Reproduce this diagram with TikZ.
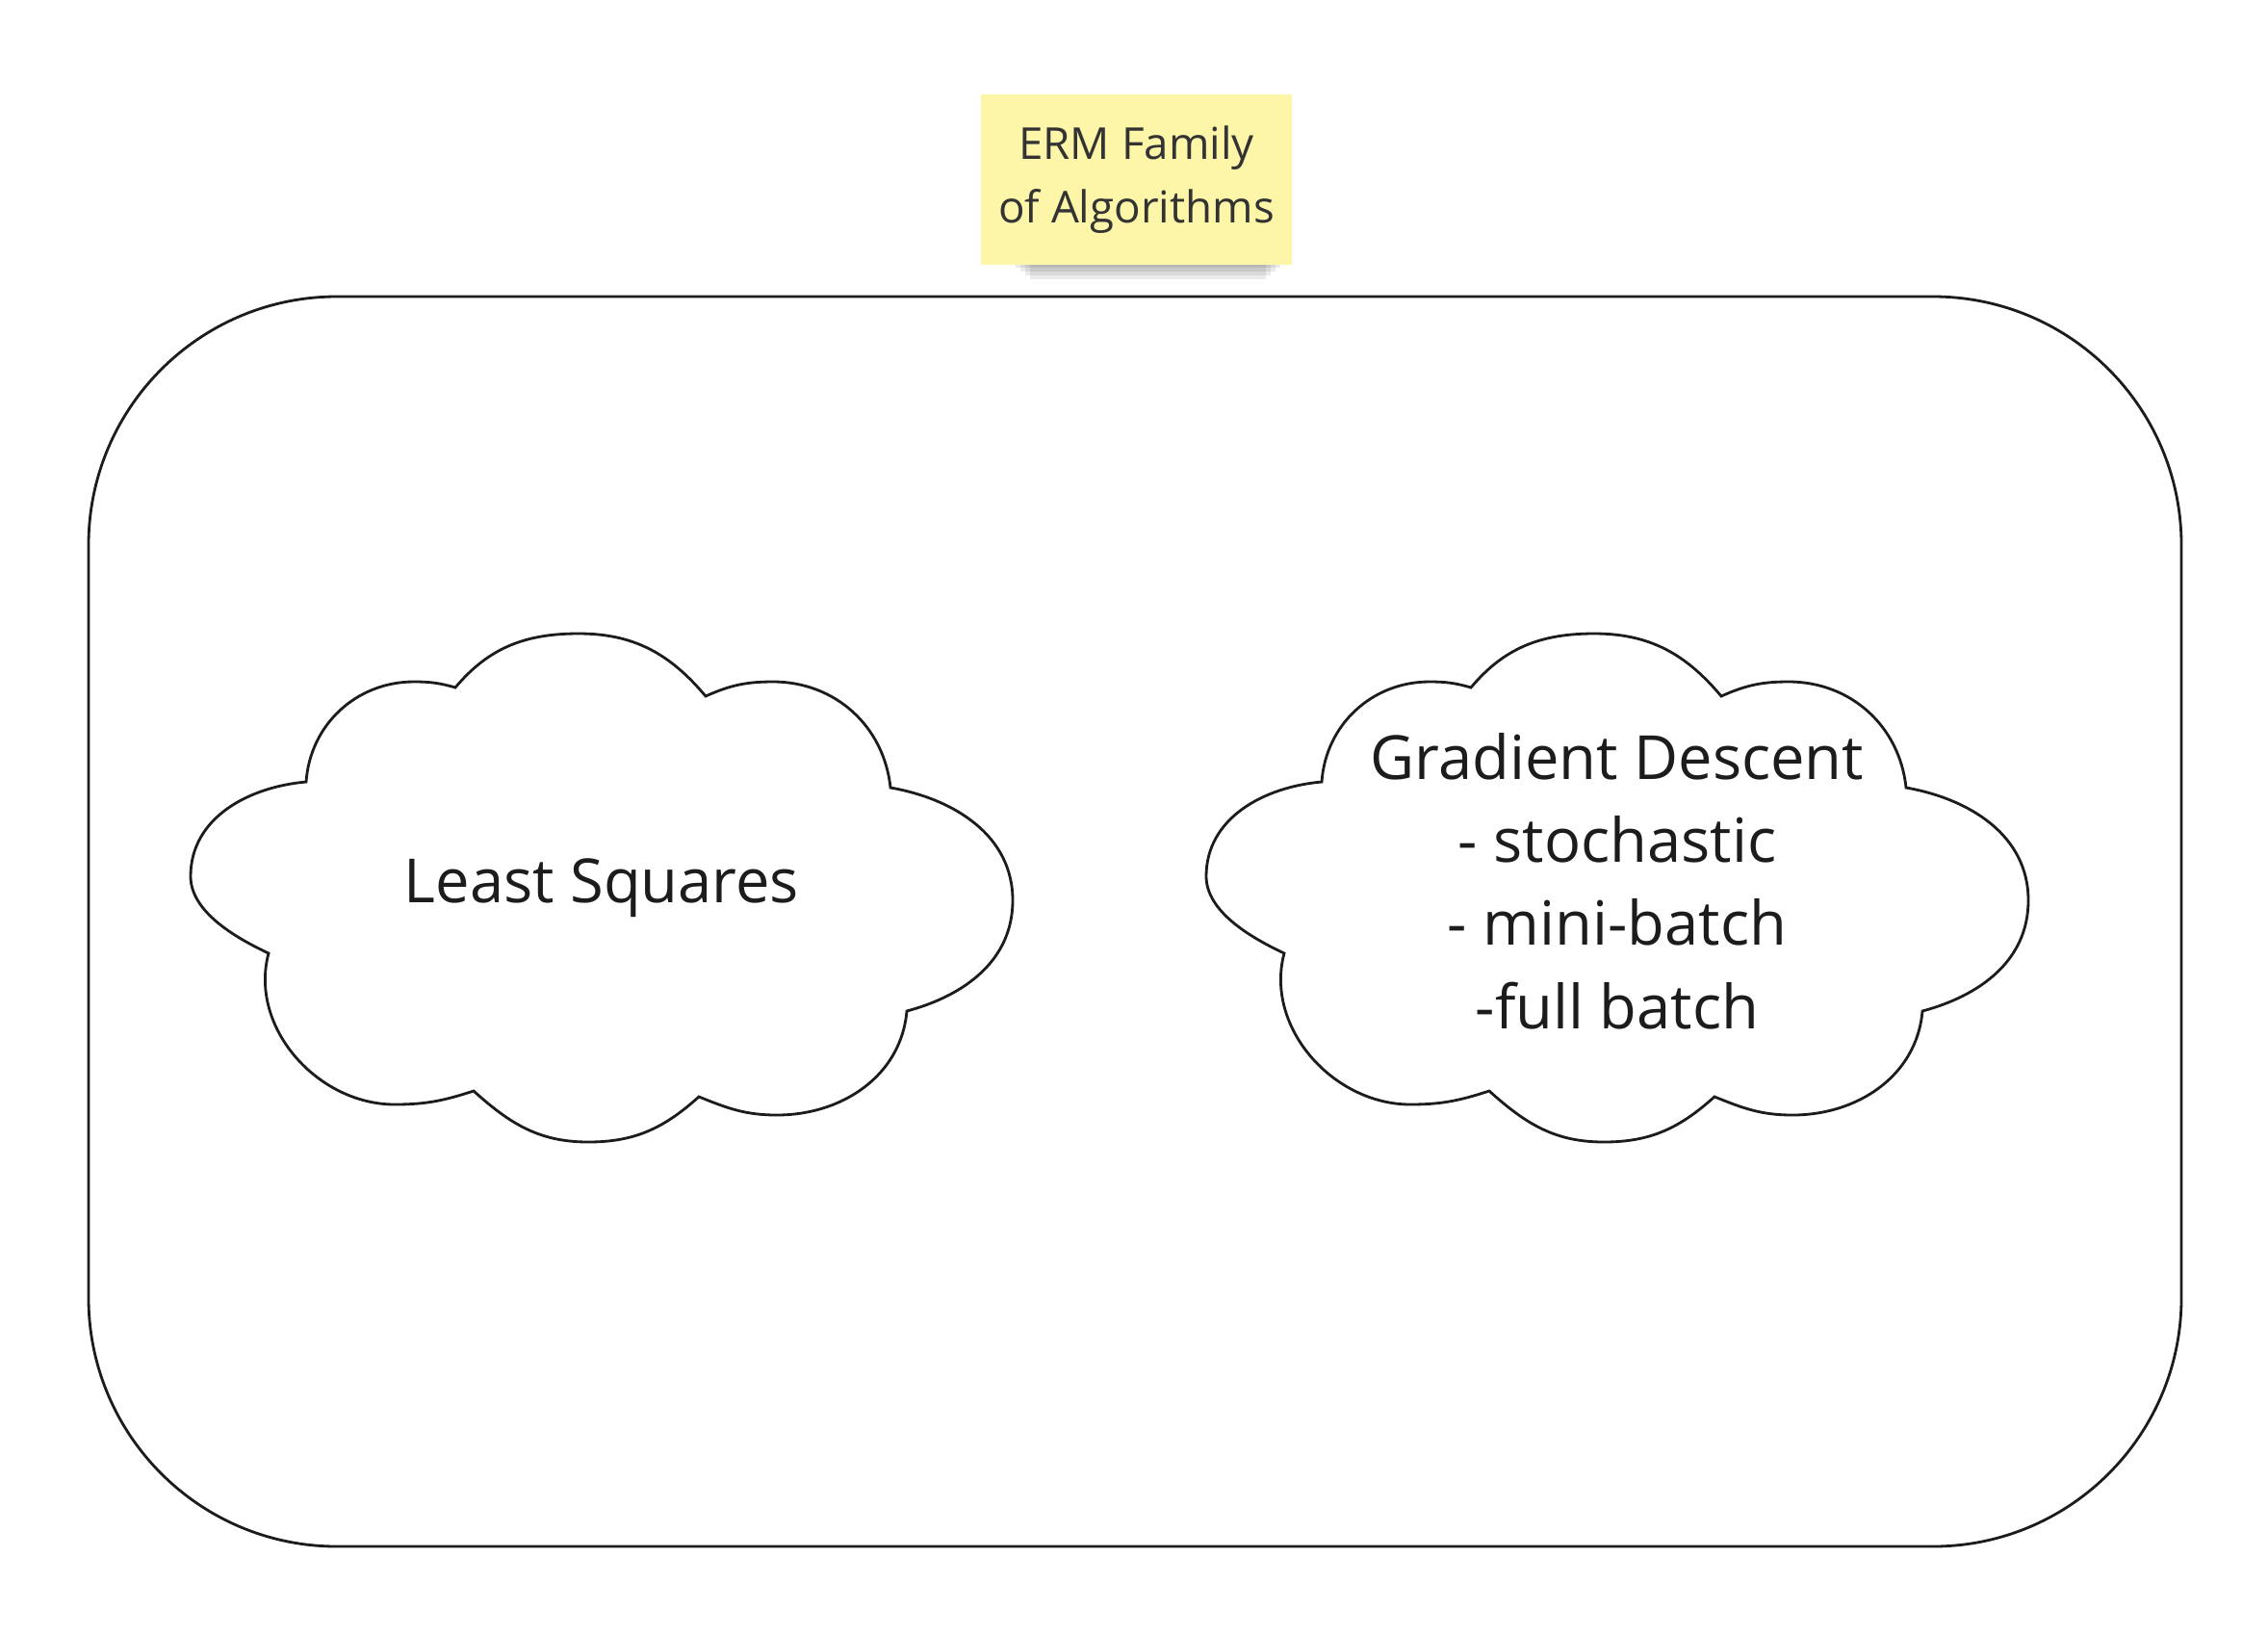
\documentclass[tikz,border=0pt]{standalone}
\usepackage{fontspec}
\setmainfont{Open Sans}
\usepackage{xcolor}
\usepackage{tikz}
\usetikzlibrary{positioning, calc}

\definecolor{stickyyellow}{HTML}{FDF5A8}
\definecolor{inkgray}{HTML}{1C1C1C}

\begin{document}
\begin{tikzpicture}[
        font=\fontsize{18}{24.6}\selectfont,
        outline/.style={draw=inkgray, line width=0.8pt},
        cloudtext/.style={align=center, text=inkgray, inner sep=0pt},
        sticky/.style={fill=stickyyellow, minimum width=3.23cm, minimum height=1.77cm, align=center,
            text=inkgray!90, font=\fontsize{13}{18.8}\selectfont},
        cloudshape/.pic={
            \draw[outline, fill=white]
                (-3.07,1.10) to[out=86, in=180] (-1.95,2.14) to[out=0, in=164] (-1.52,2.08)
                to[out=50, in=180] (-0.24,2.64) to[out=0, in=130] (1.08,1.99)
                to[out=24, in=180] (1.78,2.14) to[out=0, in=96] (3.00,1.04)
                to[out=-10, in=90] (4.27,-0.13) to[out=-90, in=15] (3.17,-1.28)
                to[out=-95, in=0] (1.82,-2.36) to[out=180, in=-22] (1.01,-2.17)
                to[out=-138, in=0] (-0.14,-2.64) to[out=180, in=-42] (-1.33,-2.11)
                to[out=198, in=0] (-2.15,-2.25) to[out=180, in=-105] (-3.46,-0.68)
                .. controls (-3.80,-0.52) and (-4.27,-0.25) .. (-4.27,0.12)
                to[out=90, in=185] (-3.07,1.10) -- cycle;
        },
    ]
    \useasboundingbox (0,0) rectangle (23.56,-16.97);

    % Family frame
    \draw[outline, rounded corners=2.58cm] (0.92,-3.08) rectangle (22.66,-16.06);

    % Sticky note with shadow
    \foreach \s in {0,1,2,3} {
        \fill[black, opacity=0.08] (10.55+0.05*\s,-2.60) rectangle (13.30-0.05*\s,-2.78-0.04*\s);
    }
    \node[sticky] (erm) at (11.805,-1.865) {ERM Family\\of Algorithms};

    % Algorithms
    \pic at (6.25,-9.22) {cloudshape};
    \node[cloudtext] (lsq) at (6.25,-9.22) {Least Squares};
    \pic at (16.80,-9.22) {cloudshape};
    \node[cloudtext] (gd) at (16.80,-9.15) {Gradient Descent\\- stochastic\\- mini-batch\\-full batch};

\end{tikzpicture}
\end{document}
